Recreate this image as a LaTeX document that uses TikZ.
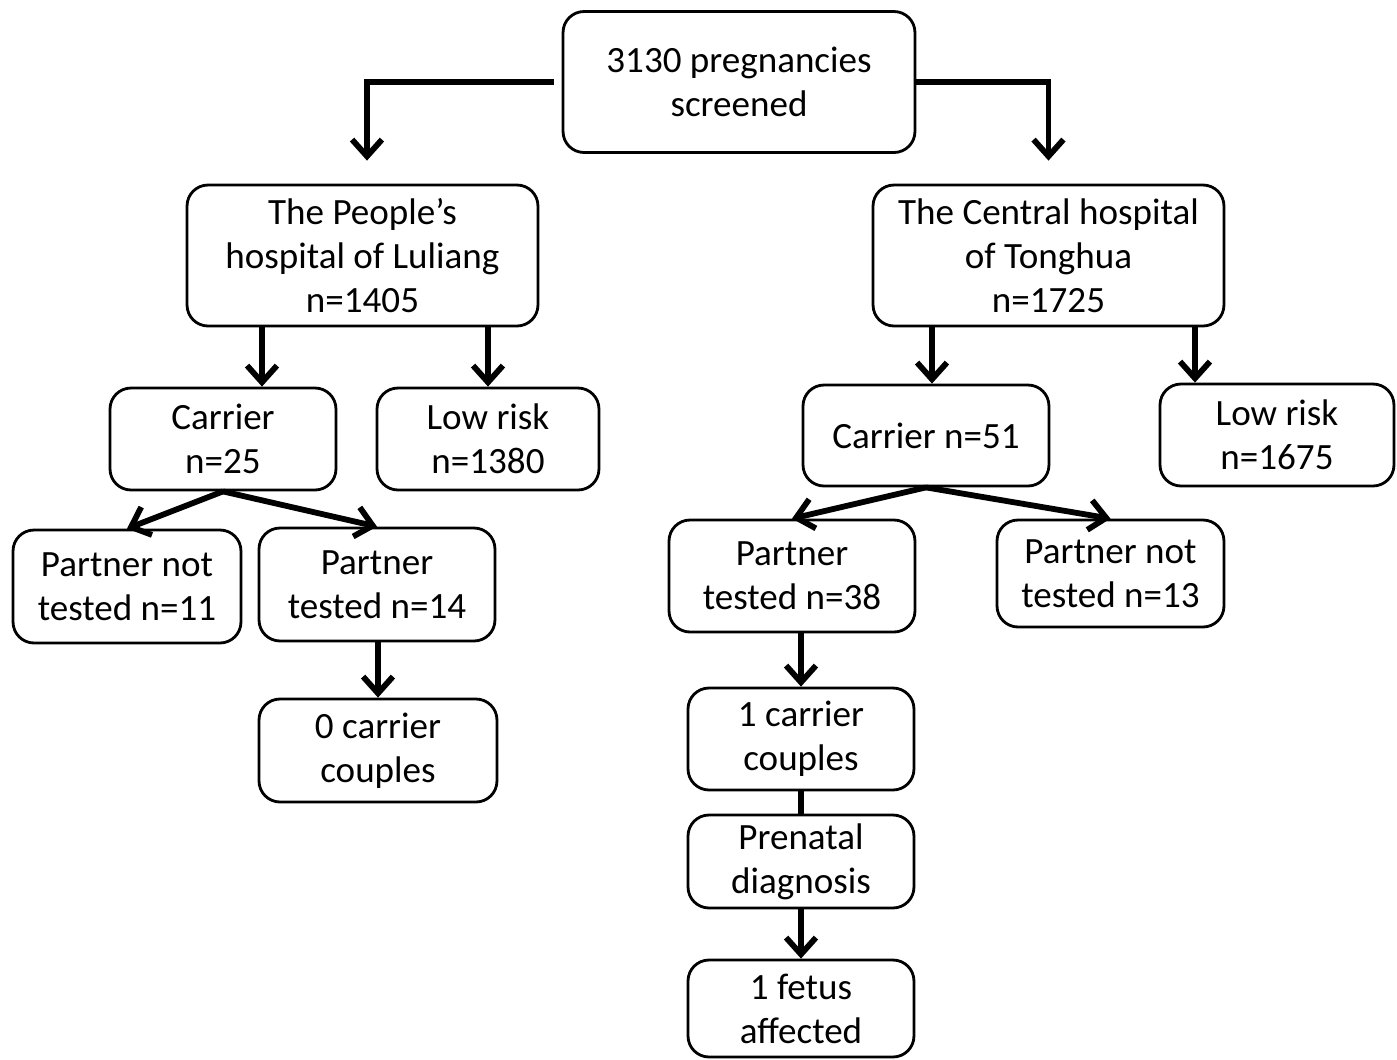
\documentclass[tikz,border=0pt]{standalone}
\usepackage{fontspec}
\setmainfont{Carlito}
\usetikzlibrary{arrows.meta}
\begin{document}
\begin{tikzpicture}[x=0.02cm,y=-0.02cm]
        \tikzstyle{box}= [draw,line width=1.6pt,rounded corners=0.42cm,align=center,inner sep=0pt,
          font=\fontsize{21.1}{25}\selectfont];
        \tikzstyle{conn}= [line width=3.3pt,-{Straight Barb[length=9.5pt,width=17pt]}];
          \useasboundingbox (0,0) rectangle (1397,1059);

          \node(top)[box,minimum width=7.04cm,minimum height=2.82cm] at (739,82) {3130 pregnancies\\screened};

          \node(lhosp)[box,minimum width=7.02cm,minimum height=2.82cm] at (362.5,255.5) {The People’s\\hospital of Luliang\\n=1405};
          \node(rhosp)[box,minimum width=7.02cm,minimum height=2.82cm] at (1048.5,255.5) {The Central hospital\\of Tonghua\\n=1725};

          \node(carrL)[box,minimum width=4.52cm,minimum height=2.04cm] at (223,439) {Carrier\\n=25};
          \node(lowL)[box,minimum width=4.44cm,minimum height=2.04cm] at (488,439) {Low risk\\n=1380};
          \node(carrR)[box,minimum width=4.92cm,minimum height=2.02cm] at (926,435.5) {Carrier n=51};
          \node(lowR)[box,minimum width=4.68cm,minimum height=2.04cm] at (1277,435) {Low risk\\n=1675};

          \node(pntL)[box,minimum width=4.56cm,minimum height=2.26cm] at (127,586.5) {Partner not\\tested n=11};
          \node(ptL)[box,minimum width=4.72cm,minimum height=2.26cm] at (377,584.5) {Partner\\tested n=14};
          \node(zero)[box,minimum width=4.76cm,minimum height=2.06cm] at (378,750.5) {0 carrier\\couples};

          \node(ptR)[box,minimum width=4.92cm,minimum height=2.24cm] at (792,576) {Partner\\tested n=38};
          \node(pntR)[box,minimum width=4.54cm,minimum height=2.14cm] at (1110.5,573.5) {Partner not\\tested n=13};
          \node(one)[box,minimum width=4.52cm,minimum height=2.04cm] at (801,739) {1 carrier\\couples};
          \node(pren)[box,minimum width=4.52cm,minimum height=1.86cm] at (801,861.5) {Prenatal\\diagnosis};
          \node(fetus)[box,minimum width=4.52cm,minimum height=1.94cm] at (801,1008.5) {1 fetus\\affected};

          % top level
          \draw[conn,shorten <=0.16cm,shorten >=0.46cm] (top.west) -| ([xshift=0.09cm]lhosp.north);
          \draw[conn,shorten >=0.46cm] (top.east) -| (rhosp.north);

          % hospitals
          \draw[conn] ([xshift=0.78cm]carrL.north |- lhosp.south) -- ([xshift=0.78cm]carrL.north);
          \draw[conn] (lowL.north |- lhosp.south) -- (lowL.north);
          \draw[conn] ([xshift=0.12cm]carrR.north |- rhosp.south) -- ([xshift=0.12cm]carrR.north);
          \draw[conn] ([xshift=-1.64cm]lowR.north |- rhosp.south) -- ([xshift=-1.64cm]lowR.north);

          % carriers
          \foreach \a/\b in {carrL/pntL,carrL/ptL,carrR/ptR,carrR/pntR}{
            \draw[conn] (\a.south) -- (\b.north);
          }

          \draw[conn] (zero.north |- ptL.south) -- (zero.north);
          \draw[conn] (one.north |- ptR.south) -- (one.north);
          \draw[line width=3.3pt] (one.south) -- (pren.north);
          \draw[conn] (pren.south) -- (fetus.north);
      \end{tikzpicture}
\end{document}
